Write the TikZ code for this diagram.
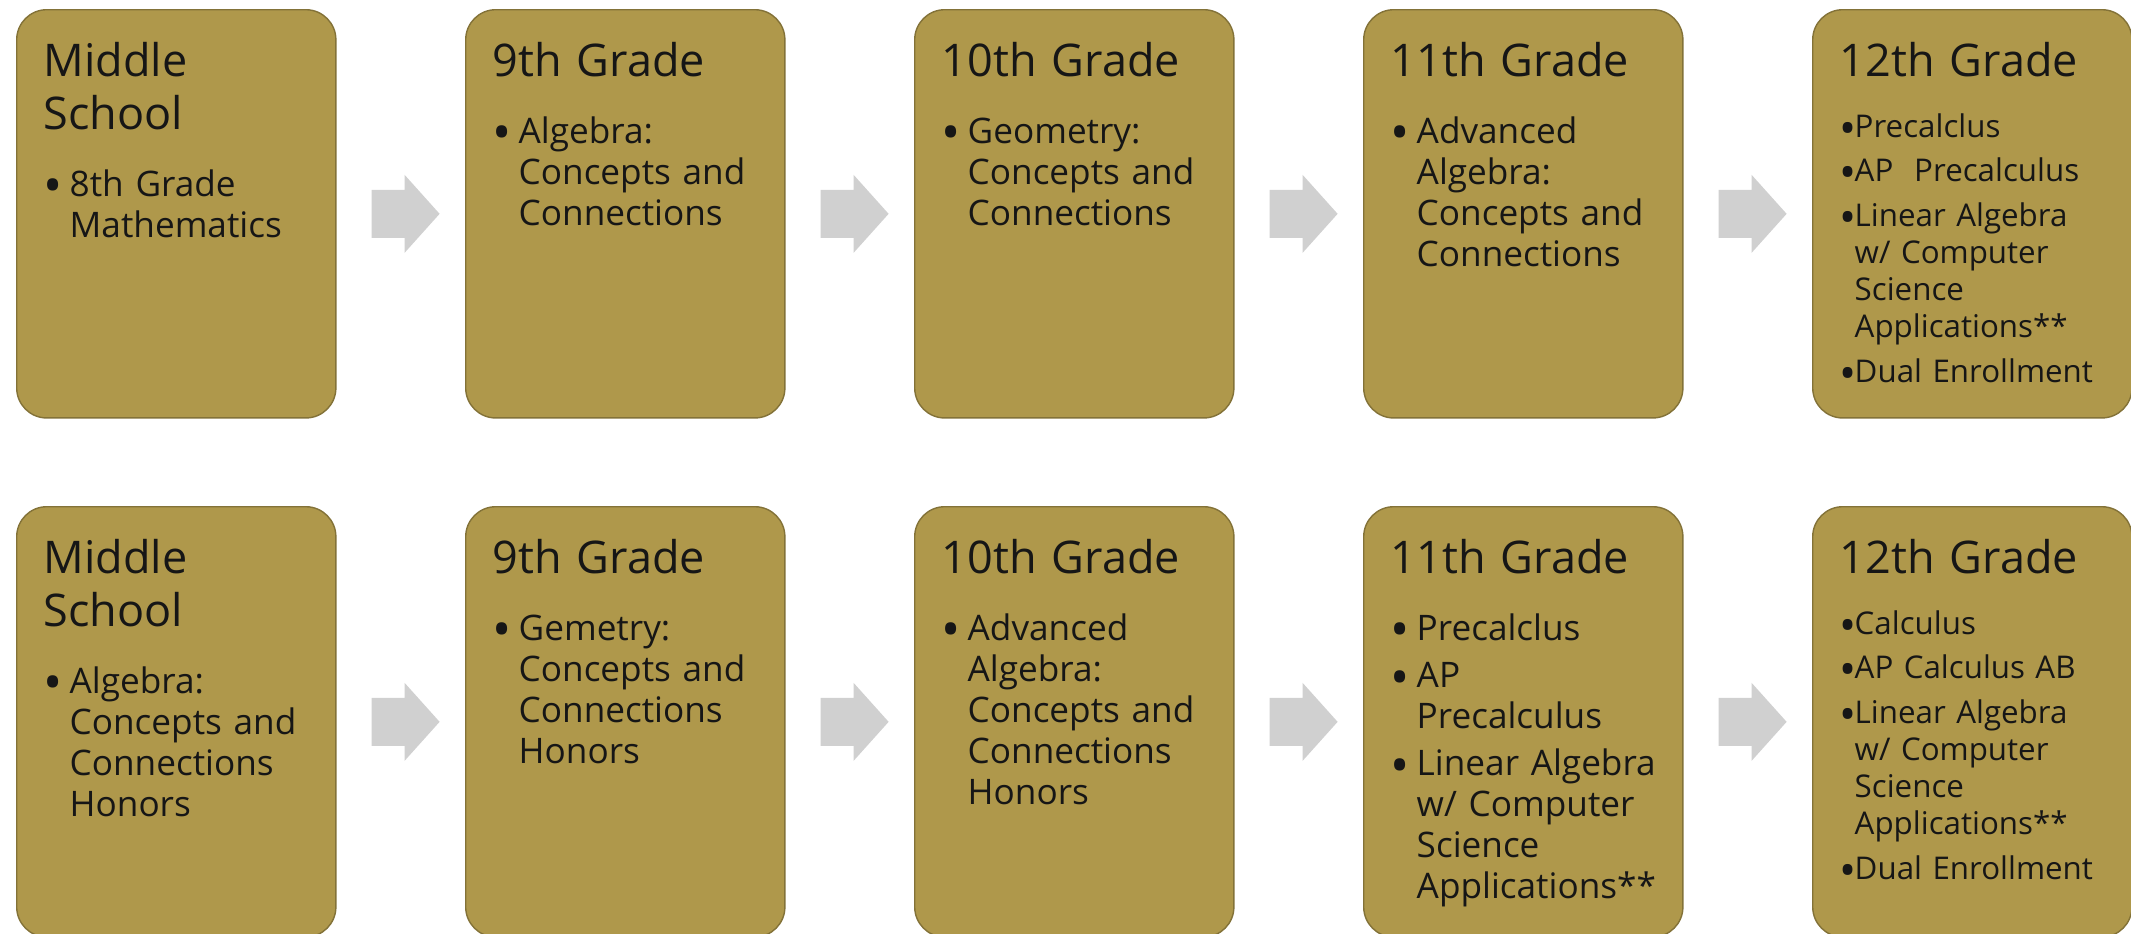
\documentclass[tikz,border=0pt]{standalone}
\usepackage{fontspec}
\setmainfont{Open Sans}
\usetikzlibrary{positioning, calc}

\definecolor{gold}{RGB}{175,152,75}
\definecolor{arrowgray}{RGB}{208,208,208}
\definecolor{ink}{RGB}{22,22,22}

\newcommand{\dotmark}{\raisebox{-0.42ex}{\scalebox{1.45}{\textbullet}}}
\newcommand{\bltA}{\makebox[0.26cm][l]{\dotmark}}
\newcommand{\indA}{\hspace*{0.26cm}}
\newcommand{\bltB}{\makebox[0.15cm][l]{\dotmark}}
\newcommand{\indB}{\hspace*{0.15cm}}

\begin{document}
\begin{tikzpicture}[x=0.01cm, y=-0.01cm,
    stage/.style={rectangle, rounded corners=0.3cm, fill=gold, draw=gold!75!black, line width=0.4pt, minimum width=3.19cm, anchor=north west, inner sep=0pt},
    ttl/.style={anchor=base west, inner sep=0pt, text width=2.9cm, align=left, text=ink, font=\fontsize{12.8}{15.1}\selectfont},
    lst/.style={anchor=base west, inner sep=0pt, text width=2.9cm, align=left, text=ink, font=\fontsize{10}{11.7}\selectfont},
    lstsmall/.style={lst, font=\fontsize{8.9}{10.5}\selectfont},
    nxt/.style={fill=arrowgray}
]
    \useasboundingbox (0,0) rectangle (2131,933);

    % Row 1 (standard track)
    \node[stage, minimum height=4.08cm] (b11) at (16,9) {};
    \node[stage, minimum height=4.08cm] (b12) at (465,9) {};
    \node[stage, minimum height=4.08cm] (b13) at (914,9) {};
    \node[stage, minimum height=4.08cm] (b14) at (1363,9) {};
    \node[stage, minimum height=4.08cm] (b15) at (1812,9) {};

    % Row 2 (honors track)
    \node[stage, minimum height=4.30cm] (b21) at (16,506) {};
    \node[stage, minimum height=4.30cm] (b22) at (465,506) {};
    \node[stage, minimum height=4.30cm] (b23) at (914,506) {};
    \node[stage, minimum height=4.30cm] (b24) at (1363,506) {};
    \node[stage, minimum height=4.30cm] (b25) at (1812,506) {};

    % Arrows between stages
    \foreach \r in {1,2}{
        \foreach \c in {1,...,4}{
            \fill[nxt] ([shift={(35,-24)}]b\r\c.east) -- ++(33,0) -- ++(0,-15) -- ++(35,39)
                -- ++(-35,39) -- ++(0,-15) -- ++(-33,0) -- cycle;
        }
    }

    % Headings
    \node[ttl] (h11) at ([shift={(27,67)}]b11.north west) {Middle\\School};
    \node[ttl] (h12) at ([shift={(27,67)}]b12.north west) {9th Grade};
    \node[ttl] (h13) at ([shift={(27,67)}]b13.north west) {10th Grade};
    \node[ttl] (h14) at ([shift={(27,67)}]b14.north west) {11th Grade};
    \node[ttl] (h15) at ([shift={(27,67)}]b15.north west) {12th Grade};
    \node[ttl] (h21) at ([shift={(27,67)}]b21.north west) {Middle\\School};
    \node[ttl] (h22) at ([shift={(27,67)}]b22.north west) {9th Grade};
    \node[ttl] (h23) at ([shift={(27,67)}]b23.north west) {10th Grade};
    \node[ttl] (h24) at ([shift={(27,67)}]b24.north west) {11th Grade};
    \node[ttl] (h25) at ([shift={(27,67)}]b25.north west) {12th Grade};

    % Course lists, row 1
    \node[lst] (l11) at ([shift={(27,187)}]b11.north west) {\bltA 8th Grade\\\indA Mathematics};
    \node[lst] (l12) at ([shift={(27,134)}]b12.north west) {\bltA Algebra:\\\indA Concepts and\\\indA Connections};
    \node[lst] (l13) at ([shift={(27,134)}]b13.north west) {\bltA Geometry:\\\indA Concepts and\\\indA Connections};
    \node[lst] (l14) at ([shift={(27,134)}]b14.north west) {\bltA Advanced\\\indA Algebra:\\\indA Concepts and\\\indA Connections};
    \node[lstsmall] (l15) at ([shift={(27,128)}]b15.north west) {\bltB Precalclus\\[0.08cm]\bltB AP\ \ Precalculus\\[0.08cm]\bltB Linear Algebra\\\indB w/ Computer\\\indB Science\\\indB Applications**\\[0.08cm]\bltB Dual Enrollment};

    % Course lists, row 2
    \node[lst] (l21) at ([shift={(27,187)}]b21.north west) {\bltA Algebra:\\\indA Concepts and\\\indA Connections\\\indA Honors};
    \node[lst] (l22) at ([shift={(27,134)}]b22.north west) {\bltA Gemetry:\\\indA Concepts and\\\indA Connections\\\indA Honors};
    \node[lst] (l23) at ([shift={(27,134)}]b23.north west) {\bltA Advanced\\\indA Algebra:\\\indA Concepts and\\\indA Connections\\\indA Honors};
    \node[lst] (l24) at ([shift={(27,134)}]b24.north west) {\bltA Precalclus\\[0.06cm]\bltA AP\\\indA Precalculus\\[0.06cm]\bltA Linear Algebra\\\indA w/ Computer\\\indA Science\\\indA Applications**};
    \node[lstsmall] (l25) at ([shift={(27,128)}]b25.north west) {\bltB Calculus\\[0.08cm]\bltB AP Calculus AB\\[0.08cm]\bltB Linear Algebra\\\indB w/ Computer\\\indB Science\\\indB Applications**\\[0.08cm]\bltB Dual Enrollment};
\end{tikzpicture}
\end{document}
